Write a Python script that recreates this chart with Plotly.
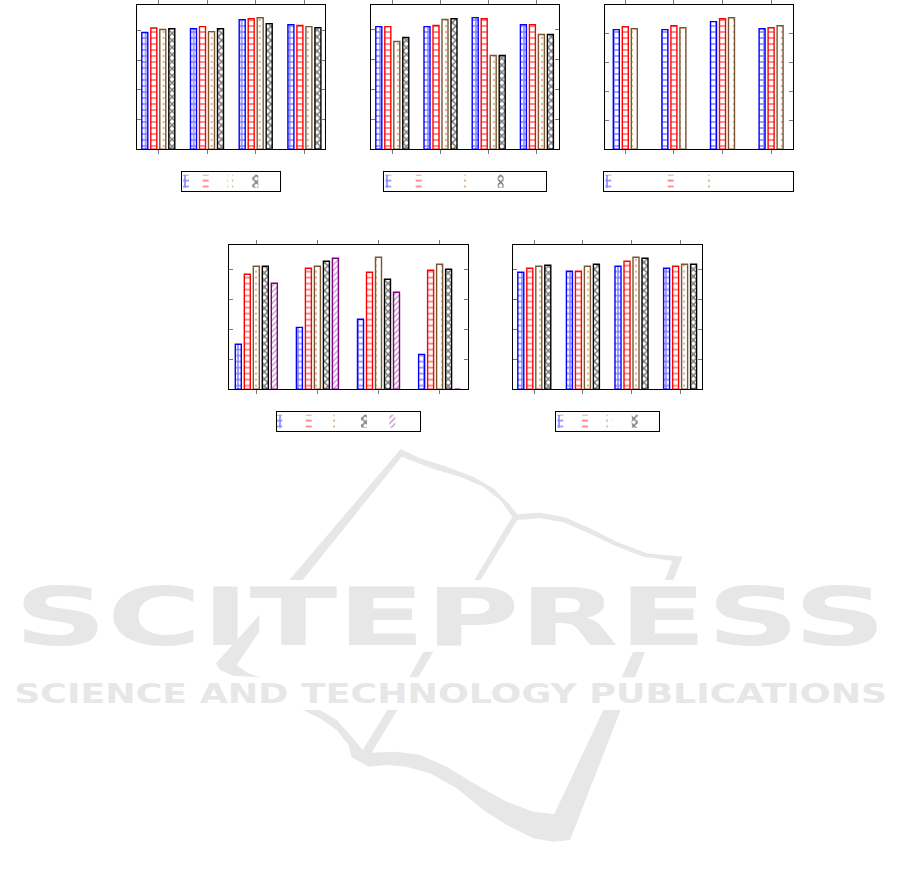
import plotly.graph_objects as go

W, H = 901, 877

# ---------- chart data ----------
GROUPS = [0, 1, 2, 3]
A_BLUE = [0.787, 0.813, 0.874, 0.840]
A_RED = [0.818, 0.827, 0.881, 0.834]
A_BROWN = [0.807, 0.793, 0.887, 0.827]
A_BLACK = [0.813, 0.813, 0.847, 0.820]

B_BLUE = [0.820, 0.820, 0.880, 0.833]
B_RED = [0.820, 0.827, 0.873, 0.833]
B_BROWN = [0.720, 0.867, 0.627, 0.767]
B_BLACK = [0.747, 0.873, 0.627, 0.767]

C_BLUE = [0.828, 0.828, 0.883, 0.834]
C_RED = [0.848, 0.855, 0.903, 0.841]
C_BROWN = [0.834, 0.841, 0.910, 0.855]

D_BLUE = [0.300, 0.413, 0.467, 0.233]
D_RED = [0.767, 0.807, 0.780, 0.793]
D_BROWN = [0.820, 0.820, 0.880, 0.833]
D_BLACK = [0.820, 0.853, 0.733, 0.800]
D_PURPLE = [0.707, 0.873, 0.647, 0.000]

E_BLUE = [0.780, 0.787, 0.820, 0.807]
E_RED = [0.807, 0.787, 0.853, 0.820]
E_BROWN = [0.820, 0.820, 0.880, 0.833]
E_BLACK = [0.827, 0.833, 0.873, 0.833]

Y_TICKS = [0.2, 0.4, 0.6, 0.8]
WATERMARK_TITLE = "SCITEPRESS"
WATERMARK_SUB = "SCIENCE AND TECHNOLOGY PUBLICATIONS"

# ---------- styles ----------
STYLE = {
    "blue": dict(line="#0000ff", fg="#0000ff", shape="+", sol=0.44, size=6),
    "red": dict(line="#ff0000", fg="#ff0000", shape="-", sol=0.30, size=6),
    "brown": dict(line="#7a5630", fg="#b8742f", shape=".", sol=0.14, size=6),
    "black": dict(line="#000000", fg="#000000", shape="x", sol=0.50, size=5),
    "purple": dict(line="#800080", fg="#902098", shape="/", sol=0.34, size=4),
}
PITCH_PX, BAR_PX = 9.0, 6.0

# layout of every panel, in page pixels
PANELS = [
    dict(box=(136.7, 325.0, 5.0, 149.3), spacing=48.7, first=158.3, top=0.9726,
         series=[("blue", A_BLUE), ("red", A_RED), ("brown", A_BROWN), ("black", A_BLACK)],
         legend=(182.0, 280.0, 171.6, 191.3), keys=[186.0, 205.7, 230.3, 255.3]),
    dict(box=(371.0, 559.0, 5.0, 149.3), spacing=48.2, first=392.3, top=0.9644,
         series=[("blue", B_BLUE), ("red", B_RED), ("brown", B_BROWN), ("black", B_BLACK)],
         legend=(384.0, 546.0, 171.6, 191.3), keys=[388.3, 418.7, 466.0, 500.7]),
    dict(box=(605.0, 793.0, 5.0, 149.3), spacing=48.6, first=625.3, top=0.998,
         series=[("blue", C_BLUE), ("red", C_RED), ("brown", C_BROWN)],
         legend=(604.0, 793.0, 171.6, 191.3), keys=[608.3, 670.7, 709.3]),
    dict(box=(229.0, 468.0, 244.6, 389.3), spacing=61.1, first=256.3, top=0.9644,
         series=[("blue", D_BLUE), ("red", D_RED), ("brown", D_BROWN), ("black", D_BLACK), ("purple", D_PURPLE)],
         legend=(277.0, 420.0, 411.6, 431.3), keys=[279.3, 308.7, 336.0, 364.0, 392.3]),
    dict(box=(513.0, 702.0, 244.6, 389.3), spacing=48.6, first=534.3, top=0.9644,
         series=[("blue", E_BLUE), ("red", E_RED), ("brown", E_BROWN), ("black", E_BLACK)],
         legend=(556.0, 659.0, 411.6, 431.3), keys=[560.3, 585.0, 609.3, 634.7]),
]

fig = go.Figure()
layout = {}
ax = 0


def axis_ids(n):
    s = "" if n == 1 else str(n)
    return "x" + s, "y" + s, "xaxis" + s, "yaxis" + s


for panel in PANELS:
    # main plot
    ax += 1
    xid, yid, xname, yname = axis_ids(ax)
    x0, x1, y0, y1 = panel["box"]
    sp = panel["spacing"]
    left = (x0 - panel["first"]) / sp
    n = len(panel["series"])
    width = BAR_PX / sp
    for i, (key, values) in enumerate(panel["series"]):
        st = STYLE[key]
        off = (i - (n - 1) / 2) * PITCH_PX / sp - width / 2
        fig.add_bar(
            x=GROUPS, y=values, xaxis=xid, yaxis=yid, name=key, width=width, offset=off,
            showlegend=False, hoverinfo="skip",
            marker=dict(color="white", line=dict(color=st["line"], width=1.4),
                        pattern=dict(shape=st["shape"], fgcolor=st["fg"], bgcolor="white",
                                     size=st["size"], solidity=st["sol"])),
        )
    layout[xname] = dict(
        domain=[x0 / W, x1 / W], anchor=yid, range=[left, left + (x1 - x0) / sp],
        tickvals=GROUPS, showticklabels=False, ticks="outside", ticklen=4, tickwidth=1,
        tickcolor="#777777", showline=True, linecolor="black", linewidth=1.2,
        mirror="allticks", showgrid=False, zeroline=False,
    )
    layout[yname] = dict(
        domain=[1 - y1 / H, 1 - y0 / H], anchor=xid, range=[0, panel["top"]],
        tickvals=Y_TICKS, showticklabels=False, ticks="inside", ticklen=4, tickwidth=1,
        tickcolor="#777777", showline=True, linecolor="black", linewidth=1.2,
        mirror="allticks", showgrid=False, zeroline=False,
    )

    # legend box: a frame with the key swatches of each series
    ax += 1
    xid, yid, xname, yname = axis_ids(ax)
    lx0, lx1, ly0, ly1 = panel["legend"]
    for (key, _), kx in zip(panel["series"], panel["keys"]):
        st = STYLE[key]
        fig.add_bar(
            x=[kx - lx0], y=[13], base=[3.5], width=[6], xaxis=xid, yaxis=yid, name=key,
            showlegend=False, hoverinfo="skip",
            marker=dict(color="white", line=dict(width=0),
                        pattern=dict(shape=st["shape"], fgcolor=st["fg"], bgcolor="white",
                                     size=st["size"], solidity=st["sol"])),
        )
    layout[xname] = dict(
        domain=[lx0 / W, lx1 / W], anchor=yid, range=[0, lx1 - lx0], showticklabels=False,
        ticks="", showline=True, linecolor="black", linewidth=1.2, mirror=True,
        showgrid=False, zeroline=False,
    )
    layout[yname] = dict(
        domain=[1 - ly1 / H, 1 - ly0 / H], anchor=xid, range=[0, ly1 - ly0], showticklabels=False,
        ticks="", showline=True, linecolor="black", linewidth=1.2, mirror=True,
        showgrid=False, zeroline=False,
    )

# ---------- watermark logo (traced in crop pixels: origin x, origin y, points at 3x) ----------
LOGO_PARTS = [
    (280, 445, [(28, 405), (362, 12), (420, 40), (500, 65), (580, 95), (640, 130), (685, 175), (712, 208),
                (780, 203), (850, 215), (930, 250), (1010, 290), (1100, 325), (1208, 335), (1180, 405),
                (1155, 405), (1177, 347), (1090, 335), (1000, 300), (920, 262), (850, 232), (780, 220),
                (712, 225), (602, 405), (583, 405), (697, 215), (660, 165), (610, 125), (540, 95),
                (460, 72), (390, 45), (365, 35), (68, 405)]),
    (280, 700, [(68, 30), (120, 30), (170, 60), (215, 110), (248, 150), (322, 30), (352, 30), (275, 158),
                (350, 155), (420, 165), (500, 200), (590, 255), (680, 305), (760, 335), (823, 342),
                (970, 30), (1022, 30), (870, 420), (820, 425), (760, 415), (680, 375), (610, 330),
                (530, 265), (450, 220), (380, 200), (320, 195), (265, 200), (215, 172), (205, 135),
                (170, 90), (120, 55)]),
    (0, 580, [(778, 105), (648, 250), (660, 270), (700, 287), (780, 292), (745, 280), (710, 255), (778, 155)]),
    (0, 580, [(1318, 155), (1338, 155), (1315, 190)]),
    (0, 580, [(1270, 215), (1300, 215), (1255, 292), (1228, 292)]),
    (0, 580, [(1899, 216), (1935, 216), (1905, 292), (1865, 292)]),
]
GREY = "#e6e7e6"
shapes = []
for ox, oy, part in LOGO_PARTS:
    pts = [((ox + zx / 3) / W, 1 - (oy + zy / 3) / H) for zx, zy in part]
    path = "M" + " L".join(f"{a:.5f},{b:.5f}" for a, b in pts) + " Z"
    shapes.append(dict(type="path", xref="paper", yref="paper", path=path,
                       fillcolor=GREY, line=dict(width=0), layer="below"))

annotations = [
    dict(text=WATERMARK_TITLE, xref="paper", yref="paper", x=450 / W, y=1 - 616.5 / H, showarrow=False,
         xanchor="center", yanchor="middle", font=dict(family="DejaVu Sans", size=81, color=GREY, weight="bold")),
    dict(text=WATERMARK_SUB, xref="paper", yref="paper", x=450 / W, y=1 - 693 / H, showarrow=False,
         xanchor="center", yanchor="middle", font=dict(family="DejaVu Sans", size=27, color=GREY, weight="bold")),
]

fig.update_layout(
    width=W, height=H, autosize=False, margin=dict(l=0, r=0, t=0, b=0),
    paper_bgcolor="white", plot_bgcolor="rgba(0,0,0,0)", showlegend=False, barmode="overlay",
    shapes=shapes, annotations=annotations, **layout,
)

POST = """
document.body.style.margin = '0';
var lens = {'SCITEPRESS': 872, 'SCIENCE AND TECHNOLOGY PUBLICATIONS': 873};
document.querySelectorAll('.annotation-text').forEach(function (t) {
  var l = lens[t.textContent];
  if (l) { t.setAttribute('textLength', l); t.setAttribute('lengthAdjust', 'spacingAndGlyphs'); }
});
"""
fig.write_html("out.html", config=dict(displayModeBar=False), post_script=POST)
